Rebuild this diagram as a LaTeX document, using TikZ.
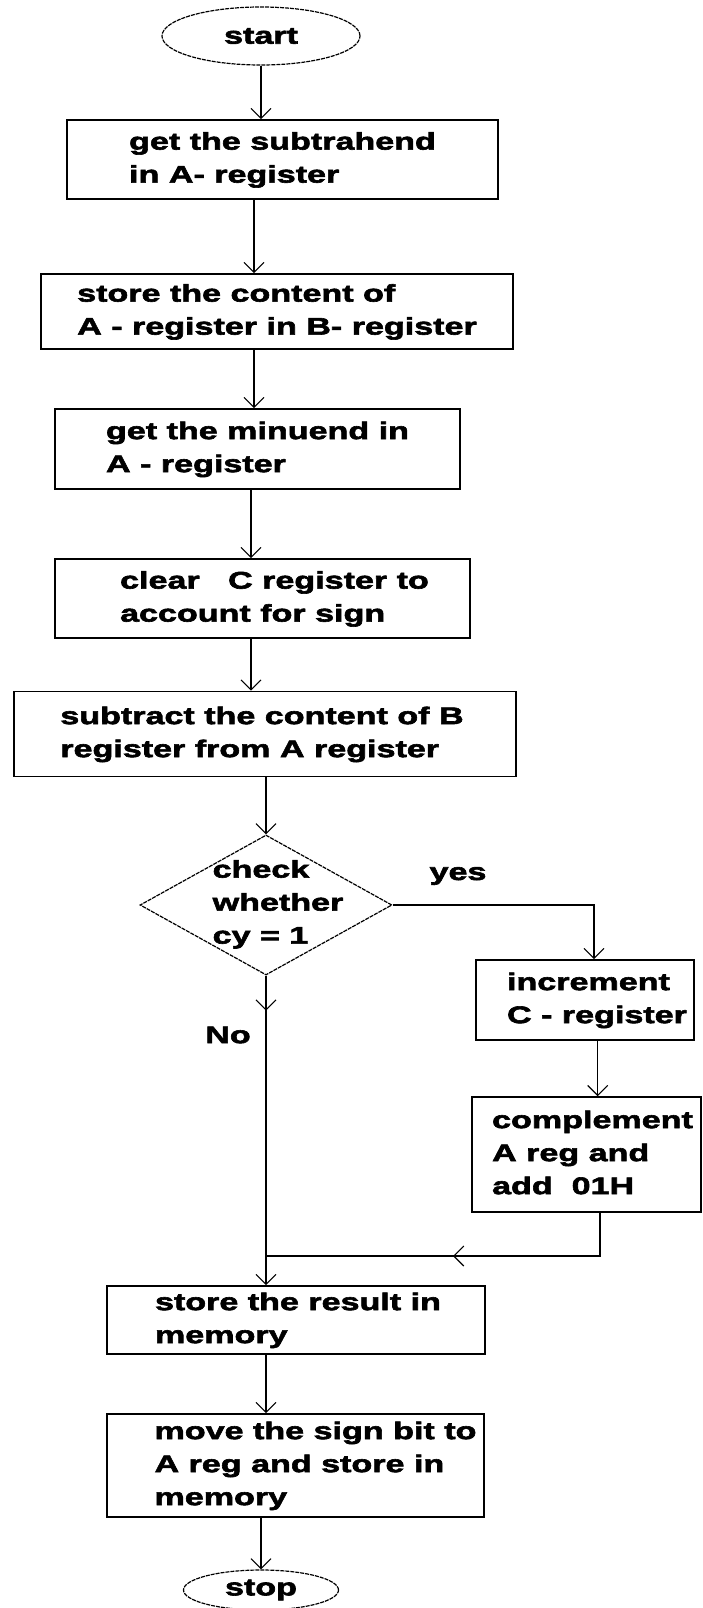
\documentclass[tikz,border=0pt]{standalone}
\usepackage{fontspec}
\newfontfamily\flowfont{Liberation Sans}[FakeStretch=1.42,FakeBold=2.5]
\usetikzlibrary{shapes.geometric,arrows.meta}
\newcommand{\boxlines}[2]{\hspace*{#1}\begin{tabular}{@{}l@{}}#2\end{tabular}\hspace*{-#1}}
\begin{document}
\begin{tikzpicture}[x=1pt,y=-1pt,
  every node/.style={font=\flowfont\bfseries\fontsize{24}{33}\selectfont},
  box/.style={draw,line width=1.6pt,rectangle,inner sep=0pt},
  term/.style={draw,ellipse,line width=1.2pt,dash pattern=on 4pt off 1pt,inner sep=0pt},
  dec/.style={draw,diamond,line width=1.2pt,dash pattern=on 4pt off 1pt,inner sep=0pt},
  conn/.style={line width=1.3pt,-{Straight Barb[length=10pt,width=20pt,line width=1.1pt]}},
  plain/.style={line width=1.3pt}]
\useasboundingbox[fill=white] (0,0) rectangle (702,1608);

\node[term,minimum width=198pt,minimum height=58pt] (start) at (261,36) {start};
\node[box,minimum width=431pt,minimum height=79pt] (b1) at (282.5,159.5) {\boxlines{0pt}{get the subtrahend\\in A- register}};
\node[box,minimum width=472pt,minimum height=75pt] (b2) at (277,311.5) {\boxlines{0pt}{store the content of\\A - register in B- register}};
\node[box,minimum width=405pt,minimum height=80pt] (b3) at (257.5,449) {\boxlines{0pt}{get the minuend in\\A - register}};
\node[box,minimum width=415pt,minimum height=79pt] (b4) at (262.5,598.5) {\boxlines{12pt}{clear\ \ \ C register to\\account for sign}};
\node[box,minimum width=502pt,minimum height=85pt] (b5) at (265,734) {\boxlines{-3pt}{subtract the content of B\\register from A register}};
\node[dec,minimum width=252pt,minimum height=140pt] (d) at (266,905) {};
\node[inner sep=0pt] (dt) at (278,904) {\boxlines{0pt}{check\\whether\\cy = 1}};
\node[inner sep=0pt] (yes) at (458,876) {yes};
\node[inner sep=0pt] (no) at (228,1035) {No};
\node[box,minimum width=218pt,minimum height=80pt] (b6) at (585,1000) {\boxlines{12pt}{increment\\C - register}};
\node[box,minimum width=229pt,minimum height=115pt] (b7) at (586.5,1154.5) {\boxlines{6pt}{complement\\A reg and\\add\ \ 01H}};
\node[box,minimum width=378pt,minimum height=68pt] (b8) at (296,1320) {\boxlines{2pt}{store the result in\\memory}};
\node[box,minimum width=377pt,minimum height=103pt] (b9) at (295.5,1465.5) {\boxlines{20pt}{move the sign bit to\\A reg and store in\\memory}};
\node[term,minimum width=155pt,minimum height=40pt] (stop) at (261,1590) {stop};

\draw[conn] (start.south) -- (start.south |- b1.north);
\draw[conn] ([xshift=-28.5pt]b1.south) -- ([xshift=-28.5pt]b1.south |- b2.north);
\draw[conn] ([xshift=-23pt]b2.south) -- ([xshift=-23pt]b2.south |- b3.north);
\draw[conn] ([xshift=-6.5pt]b3.south) -- ([xshift=-6.5pt]b3.south |- b4.north);
\draw[conn] ([xshift=-11.5pt]b4.south) -- ([xshift=-11.5pt]b4.south |- b5.north);
\draw[conn] (d.north |- b5.south) -- (d.north);
\draw[conn] (d.east) -| ([xshift=9pt]b6.north);
\draw[conn] ([xshift=12.7pt]b6.south) -- ([xshift=12.7pt]b6.south |- b7.north);

\coordinate (mrow) at (0,1256);
\coordinate (join) at (d.south |- mrow);
\coordinate (b7out) at ([xshift=13.5pt]b7.south);
\coordinate (mtip) at (453,1256);
\draw[plain] (b7out) |- (join);
\draw[conn] (b7out |- mrow) -- (mtip);

\draw[conn] (d.south) -- ++(0,35);
\draw[conn] (d.south) -- (d.south |- b8.north);
\draw[conn] (d.south |- b8.south) -- (d.south |- b9.north);
\draw[conn] (stop.north |- b9.south) -- (stop.north);
\end{tikzpicture}
\end{document}
